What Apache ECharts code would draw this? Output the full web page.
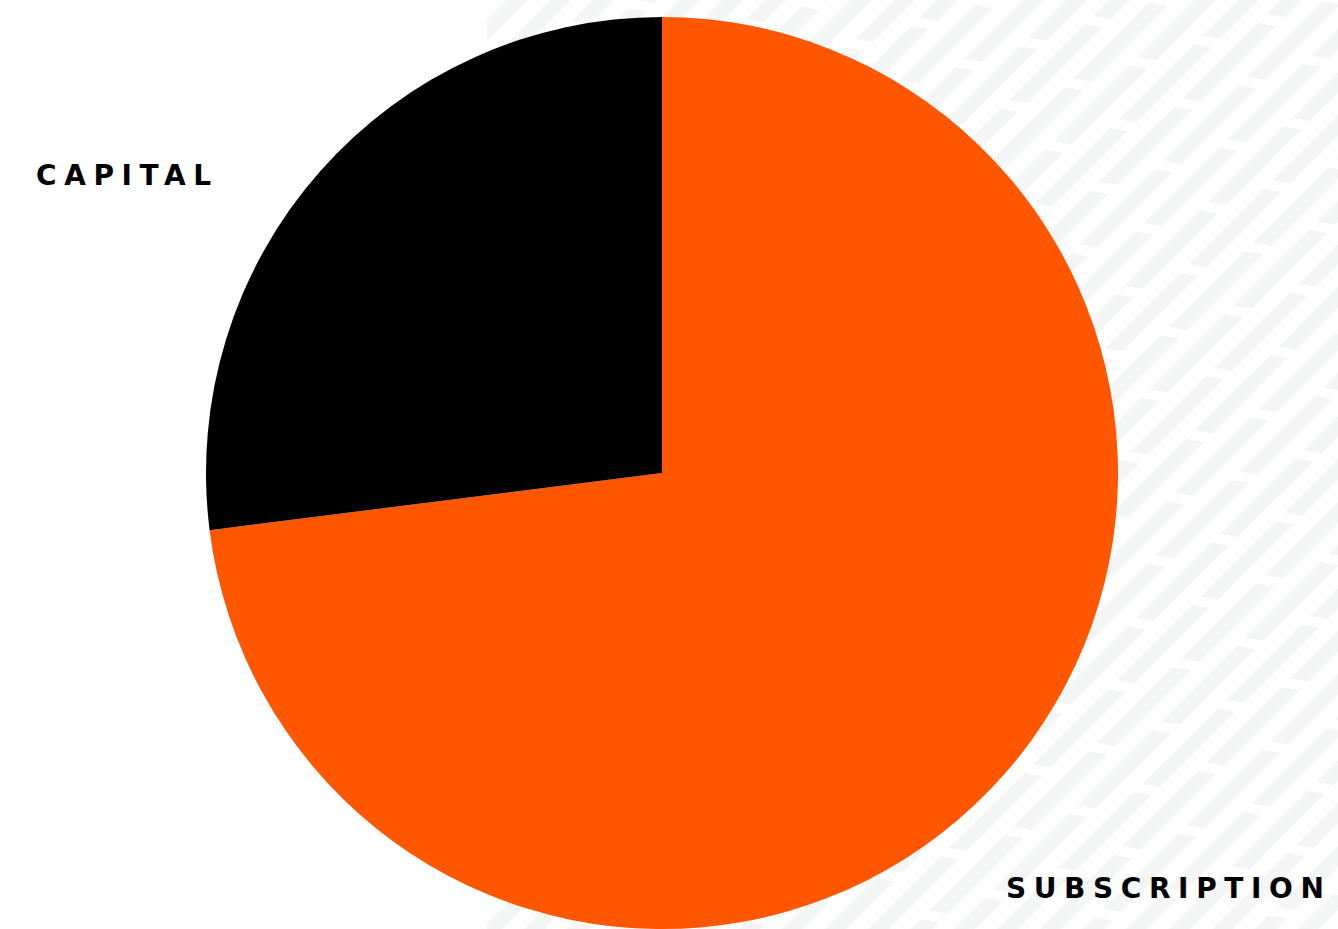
<!DOCTYPE html>
<html>
<head>
<meta charset="utf-8">
<script src="https://cdn.jsdelivr.net/npm/echarts@6/dist/echarts.min.js"></script>
<style>
html,body{margin:0;padding:0;background:#fff;}
#chart{width:1338px;height:929px;}
#chart text{letter-spacing:7.6px;}
</style>
</head>
<body>
<div id="chart"></div>
<script>
const categories = ['SUBSCRIPTION', 'CAPITAL'];
const values = [73, 27];
const colors = ['#ff5600', '#000000'];

// decorative striped backdrop (right part of the canvas)
function makeBackdrop() {
  const X0 = 487, W = 1338 - X0, H = 929;
  const cv = document.createElement('canvas');
  cv.width = W; cv.height = H;
  const ctx = cv.getContext('2d');
  ctx.translate(-X0, 0);
  ctx.fillStyle = '#f4f6f5';
  const m = 0.18, w = 21, P = 99, gap = 10;
  for (let i = -5; i < 70; i++) {
    const c = 34 + 43 * i;
    const A = 423.3 - 33 * (i - 43);
    for (let n = -40; n < 40; n++) {
      const t = A + n * P, b = A + (n + 1) * P - gap;
      const pt = (C, a) => { const x = (C - a) / (1 + m); return [x, C - x]; };
      const p1 = pt(c, t), p2 = pt(c + w, t), p3 = pt(c + w, b), p4 = pt(c, b);
      if (Math.max(p1[1], p2[1]) < -50 && Math.max(p3[1], p4[1]) < -50) continue;
      ctx.beginPath();
      ctx.moveTo(p1[0], p1[1]); ctx.lineTo(p2[0], p2[1]);
      ctx.lineTo(p3[0], p3[1]); ctx.lineTo(p4[0], p4[1]);
      ctx.closePath(); ctx.fill();
    }
  }
  return { url: cv.toDataURL(), x: X0, w: W, h: H };
}
const bd = makeBackdrop();

const chart = echarts.init(document.getElementById('chart'), null, { renderer: 'svg' });
const labelPos = { 'CAPITAL': [36, 175], 'SUBSCRIPTION': [1006, 888] };
chart.setOption({
  backgroundColor: '#ffffff',
  animation: false,
  graphic: [
    { type: 'image', z: -10, left: bd.x, top: 0, silent: true,
      style: { image: bd.url, x: 0, y: 0, width: bd.w, height: bd.h } }
  ].concat(categories.map(name => ({
    type: 'text', x: labelPos[name][0], y: labelPos[name][1], z: 10,
    style: { text: name, fill: '#000', font: 'bold 28px "DejaVu Sans"', textAlign: 'left', textVerticalAlign: 'middle' }
  }))),
  series: [{
    type: 'pie',
    center: [662, 473],
    radius: [0, 456],
    startAngle: 90,
    clockwise: true,
    label: { show: false },
    labelLine: { show: false },
    itemStyle: { borderWidth: 0 },
    emphasis: { disabled: true },
    data: categories.map((n, i) => ({ name: n, value: values[i], itemStyle: { color: colors[i] } }))
  }]
});
</script>
</body>
</html>
